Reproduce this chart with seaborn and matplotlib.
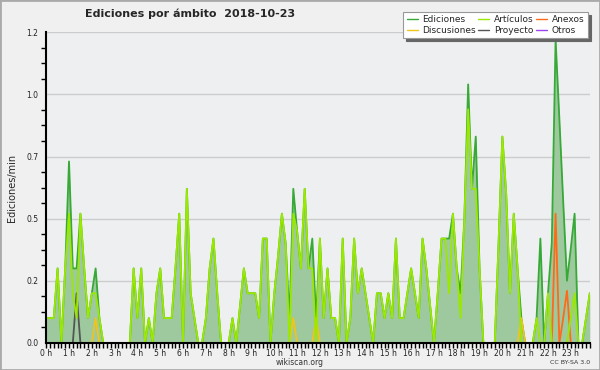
import numpy as np
import pandas as pd
import seaborn as sns
import matplotlib.pyplot as plt
from matplotlib.ticker import FixedLocator, MultipleLocator
from matplotlib.patches import Rectangle

# ediciones por minuto, una muestra cada 10 minutos (0:00 - 23:50)
ediciones = [
    0.1, 0.1, 0.1, 0.3, 0, 0.3, 0.73, 0.3, 0.3, 0.52, 0.3, 0.1,
    0.2, 0.3, 0.1, 0, 0, 0, 0, 0, 0, 0, 0, 0.3,
    0.1, 0.3, 0, 0.1, 0, 0.2, 0.3, 0.1, 0.1, 0.1, 0.3, 0.52,
    0, 0.62, 0.2, 0.1, 0, 0, 0.1, 0.3, 0.42, 0.2, 0, 0,
    0, 0.1, 0, 0.15, 0.3, 0.2, 0.2, 0.2, 0.1, 0.42, 0.42, 0,
    0.2, 0.35, 0.52, 0.4, 0.1, 0.62, 0.45, 0.3, 0.62, 0.3, 0.42, 0.1,
    0.42, 0.1, 0.3, 0.1, 0.1, 0, 0.42, 0, 0.1, 0.42, 0.2, 0.3,
    0.2, 0.1, 0, 0.2, 0.2, 0.1, 0.2, 0.1, 0.42, 0.1, 0.1, 0.2,
    0.3, 0.2, 0.1, 0.42, 0.3, 0.15, 0, 0.2, 0.42, 0.42, 0.42, 0.52,
    0.3, 0.2, 0.5, 1.04, 0.62, 0.83, 0.3, 0, 0, 0, 0, 0.4,
    0.83, 0.6, 0.2, 0.52, 0.3, 0.1, 0, 0, 0, 0.1, 0.42, 0,
    0.2, 0.4, 1.22, 0.9, 0.57, 0.25, 0.38, 0.52, 0, 0, 0.1, 0.2,
]
articulos = [
    0.1, 0.1, 0.1, 0.3, 0, 0.3, 0.52, 0.2, 0.1, 0.52, 0.3, 0.1,
    0.2, 0.2, 0.1, 0, 0, 0, 0, 0, 0, 0, 0, 0.3,
    0.1, 0.3, 0, 0.1, 0, 0.2, 0.3, 0.1, 0.1, 0.1, 0.3, 0.52,
    0, 0.62, 0.2, 0.1, 0, 0, 0.1, 0.3, 0.42, 0.2, 0, 0,
    0, 0.1, 0, 0.15, 0.3, 0.2, 0.2, 0.2, 0.1, 0.42, 0.42, 0,
    0.2, 0.35, 0.52, 0.4, 0, 0.52, 0.45, 0.3, 0.62, 0.3, 0.3, 0,
    0.42, 0.1, 0.3, 0.1, 0.1, 0, 0.42, 0, 0.1, 0.42, 0.2, 0.3,
    0.2, 0.1, 0, 0.2, 0.2, 0.1, 0.2, 0.1, 0.42, 0.1, 0.1, 0.2,
    0.3, 0.2, 0.1, 0.42, 0.3, 0.15, 0, 0.2, 0.42, 0.42, 0.2, 0.52,
    0.3, 0.1, 0.5, 0.94, 0.62, 0.62, 0.3, 0, 0, 0, 0, 0.4,
    0.83, 0.6, 0.2, 0.52, 0.3, 0, 0, 0, 0, 0.1, 0, 0,
    0.2, 0, 0, 0, 0, 0, 0.1, 0.2, 0, 0, 0.1, 0.2,
]
# series casi vacias: {muestra: valor}
discusiones_pts = {13: 0.1, 65: 0.1, 71: 0.1, 125: 0.1}
proyecto_pts = {8: 0.2}
anexos_pts = {134: 0.52, 136: 0.1, 137: 0.21}
otros_pts = {}

horas = np.arange(len(ediciones)) / 6.0
hour_labels = [f"{h} h" for h in range(24)]

def full(pts):
    s = np.zeros(len(ediciones))
    for k, v in pts.items():
        s[k] = v
    return s

df = pd.DataFrame({
    'hora': horas,
    'Ediciones': ediciones,
    'Artículos': articulos,
    'Discusiones': full(discusiones_pts),
    'Proyecto': full(proyecto_pts),
    'Anexos': full(anexos_pts),
    'Otros': full(otros_pts),
})

colores = {
    'Ediciones': '#36a936',
    'Discusiones': '#f0c419',
    'Artículos': '#9be800',
    'Proyecto': '#555555',
    'Anexos': '#ff6a1a',
    'Otros': '#9a45f0',
}

sns.set_style('white')
plt.rcParams['font.family'] = ['DejaVu Sans']

fig = plt.figure(figsize=(6, 3.7), dpi=100, facecolor='#f0f0f0')
ax = fig.add_axes([0.077, 0.073, 0.906, 0.840])
ax.set_facecolor('#edeff1')

ax.fill_between(df['hora'], df['Ediciones'], color='#9ec99e', lw=0, zorder=1)
for name in ['Ediciones', 'Otros', 'Proyecto', 'Anexos', 'Discusiones', 'Artículos']:
    sns.lineplot(data=df, x='hora', y=name, color=colores[name], lw=1.3,
                 label=name, ax=ax, zorder=2)

ax.set_xlim(0, horas[-1])
ax.set_ylim(0, 1.25)
ax.yaxis.set_major_locator(FixedLocator([0, 0.25, 0.5, 0.75, 1.0, 1.25]))
ax.set_yticklabels(['0.0', '0.2', '0.5', '0.7', '1.0', '1.2'])
ax.yaxis.set_minor_locator(MultipleLocator(0.0625))
ax.xaxis.set_major_locator(FixedLocator(range(24)))
ax.set_xticklabels(hour_labels)
ax.xaxis.set_minor_locator(MultipleLocator(1 / 6))
ax.tick_params(axis='both', which='both', direction='out', color='black',
               width=1, labelsize=5.5, pad=0.5, labelcolor='#222222')
ax.tick_params(axis='y', which='major', length=5)
ax.tick_params(axis='y', which='minor', length=3.5, left=True)
ax.tick_params(axis='x', which='major', length=3.5, bottom=True)
ax.tick_params(axis='x', which='minor', length=3.5, bottom=True)
ax.grid(axis='y', color='#cccccc', lw=1)
ax.set_axisbelow(True)
for s in ['top', 'right']:
    ax.spines[s].set_visible(False)
for s in ['left', 'bottom']:
    ax.spines[s].set_color('black')
    ax.spines[s].set_linewidth(1.5)
    ax.spines[s].set_zorder(3)

ax.set_xlabel('')
ax.set_ylabel('Ediciones/min', fontsize=7, labelpad=7)

handles, labels = ax.get_legend_handles_labels()
ax.get_legend().remove()
order = ['Ediciones', 'Discusiones', 'Artículos', 'Proyecto', 'Anexos', 'Otros']
hmap = dict(zip(labels, handles))
leg = fig.legend([hmap[k] for k in order], order, loc='upper left',
                 bbox_to_anchor=(0.672, 0.968), ncol=3, fontsize=6.5,
                 frameon=True, fancybox=False, shadow={'color': '#666666', 'alpha': 1},
                 handlelength=1.2, handletextpad=0.5, columnspacing=0.3,
                 labelspacing=0.15, borderpad=0.4, borderaxespad=0)
leg.get_frame().set_edgecolor('#999999')
leg.get_frame().set_linewidth(0.8)
for line in leg.get_lines():
    line.set_linewidth(1)

fig.text(0.142, 0.962, 'Ediciones por ámbito  2018-10-23', fontsize=8,
         fontweight='bold', ha='left', va='center')
fig.text(0.5, 0.019, 'wikiscan.org', fontsize=5.5, ha='center', va='center', color='#333333')
fig.text(0.983, 0.019, 'CC BY-SA 3.0', fontsize=4.5, ha='right', va='center', color='#333333')
fig.patches.append(Rectangle((0, 0), 1, 1, transform=fig.transFigure, fill=False,
                             edgecolor='#aaaaaa', lw=2))

plt.savefig('out.png', dpi=100, facecolor=fig.get_facecolor())
